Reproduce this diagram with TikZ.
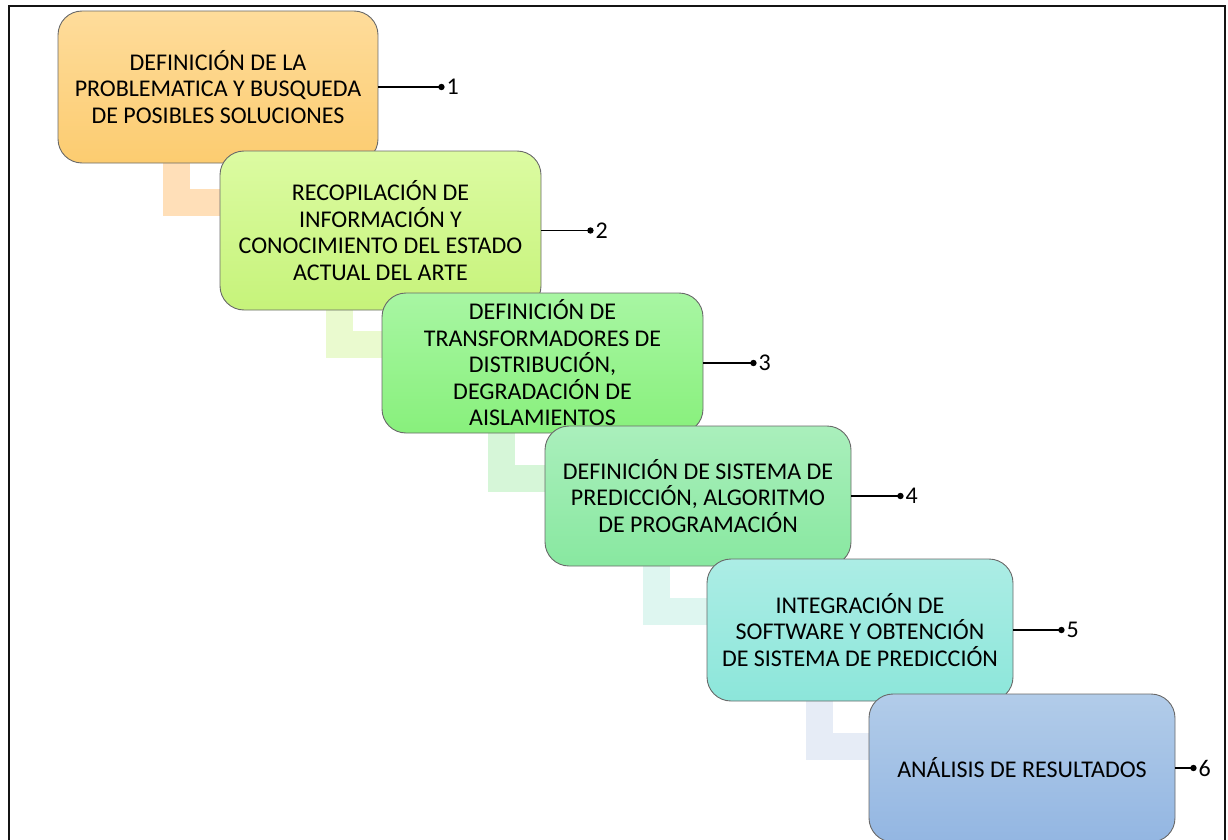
\documentclass[tikz,border=0pt]{standalone}
\usepackage{fontspec}
\setmainfont{Carlito}
\usetikzlibrary{calc,backgrounds}
\definecolor{frameblack}{RGB}{20,20,20}
\definecolor{boxborder}{RGB}{105,105,105}
\definecolor{t1}{RGB}{254,220,155}\definecolor{u1}{RGB}{252,204,112}
\definecolor{t2}{RGB}{220,251,162}\definecolor{u2}{RGB}{198,243,122}
\definecolor{t3}{RGB}{168,246,163}\definecolor{u3}{RGB}{136,240,124}
\definecolor{t4}{RGB}{170,239,188}\definecolor{u4}{RGB}{136,232,160}
\definecolor{t5}{RGB}{172,237,229}\definecolor{u5}{RGB}{140,230,218}
\definecolor{t6}{RGB}{178,204,233}\definecolor{u6}{RGB}{147,182,226}
\definecolor{c1}{RGB}{255,223,184}
\definecolor{c2}{RGB}{234,250,207}
\definecolor{c3}{RGB}{214,246,216}
\definecolor{c4}{RGB}{222,246,240}
\definecolor{c5}{RGB}{230,236,246}
\tikzset{
  stepbox/.style={draw=boxborder, line width=0.9pt, rounded corners=24pt,
    shading=axis, inner sep=0pt, align=center,
    font=\fontsize{24}{26.5}\selectfont},
  lead/.style={line width=1.3pt, draw=black},
  num/.style={anchor=west, inner sep=1pt, xshift=4pt, font=\fontsize{24}{26.5}\selectfont},
}
\newcommand{\lbar}[5]{%
  \path ([xshift=#4pt]#1.south west) coordinate (#1p1)
        ([xshift=#4pt+27pt, yshift=-#5pt]#1.south west) coordinate (#1p2);
  \fill[#3] ([yshift=2pt]#1p1) rectangle (#1p2);
  \fill[#3] (#1p1 |- #1p2) rectangle ($(#2.west |- #1p2)+(3,-27)$);
}
\begin{document}
\begin{tikzpicture}[x=1pt,y=-1pt]
\useasboundingbox (0,0) rectangle (1228,840);
\clip (0,0) rectangle (1228,840);

\node[stepbox, minimum width=320pt, minimum height=152pt, top color=t1, bottom color=u1] (b1) at (218,87)
   {DEFINICIÓN DE LA\\PROBLEMATICA Y BUSQUEDA\\DE POSIBLES SOLUCIONES};
\node[stepbox, minimum width=321pt, minimum height=159pt, top color=t2, bottom color=u2] (b2) at (380.5,230.5)
   {RECOPILACIÓN DE\\INFORMACIÓN Y\\CONOCIMIENTO DEL ESTADO\\ACTUAL DEL ARTE};
\node[stepbox, minimum width=321pt, minimum height=140pt, top color=t3, bottom color=u3] (b3) at (542.5,363)
   {DEFINICIÓN DE\\TRANSFORMADORES DE\\DISTRIBUCIÓN,\\DEGRADACIÓN DE\\AISLAMIENTOS};
\node[stepbox, minimum width=306pt, minimum height=140pt, top color=t4, bottom color=u4] (b4) at (698,496)
   {DEFINICIÓN DE SISTEMA DE\\PREDICCIÓN, ALGORITMO\\DE PROGRAMACIÓN};
\node[stepbox, minimum width=306pt, minimum height=142pt, top color=t5, bottom color=u5] (b5) at (860,630)
   {INTEGRACIÓN DE\\SOFTWARE Y OBTENCIÓN\\DE SISTEMA DE PREDICCIÓN};
\node[stepbox, minimum width=306pt, minimum height=148pt, top color=t6, bottom color=u6] (b6) at (1022,768)
   {ANÁLISIS DE RESULTADOS};

\begin{scope}[on background layer]
\draw[frameblack, line width=2pt] (8.5,860) -- (8.5,6.5) -- (1225,6.5) -- (1225,860);
\lbar{b1}{b2}{c1}{105}{53}
\lbar{b2}{b3}{c2}{106}{48}
\lbar{b3}{b4}{c3}{106}{59}
\lbar{b4}{b5}{c4}{98}{59}
\lbar{b5}{b6}{c5}{99}{59}
\end{scope}

\path (b1.east) ++(63,0) coordinate (d1);
\path (b2.east) ++(49,0) coordinate (d2);
\path (b3.east) ++(50,0) coordinate (d3);
\path (b4.east) ++(49,0) coordinate (d4);
\path (b5.east) ++(48,0) coordinate (d5);
\path (b6.east) ++(18,0) coordinate (d6);
\foreach \i in {1,...,6}{
  \draw[lead] (b\i.east) -- (d\i);
  \fill (d\i) circle (3.2pt);
  \node[num] (n\i) at (d\i) {\i};
}
\end{tikzpicture}
\end{document}
